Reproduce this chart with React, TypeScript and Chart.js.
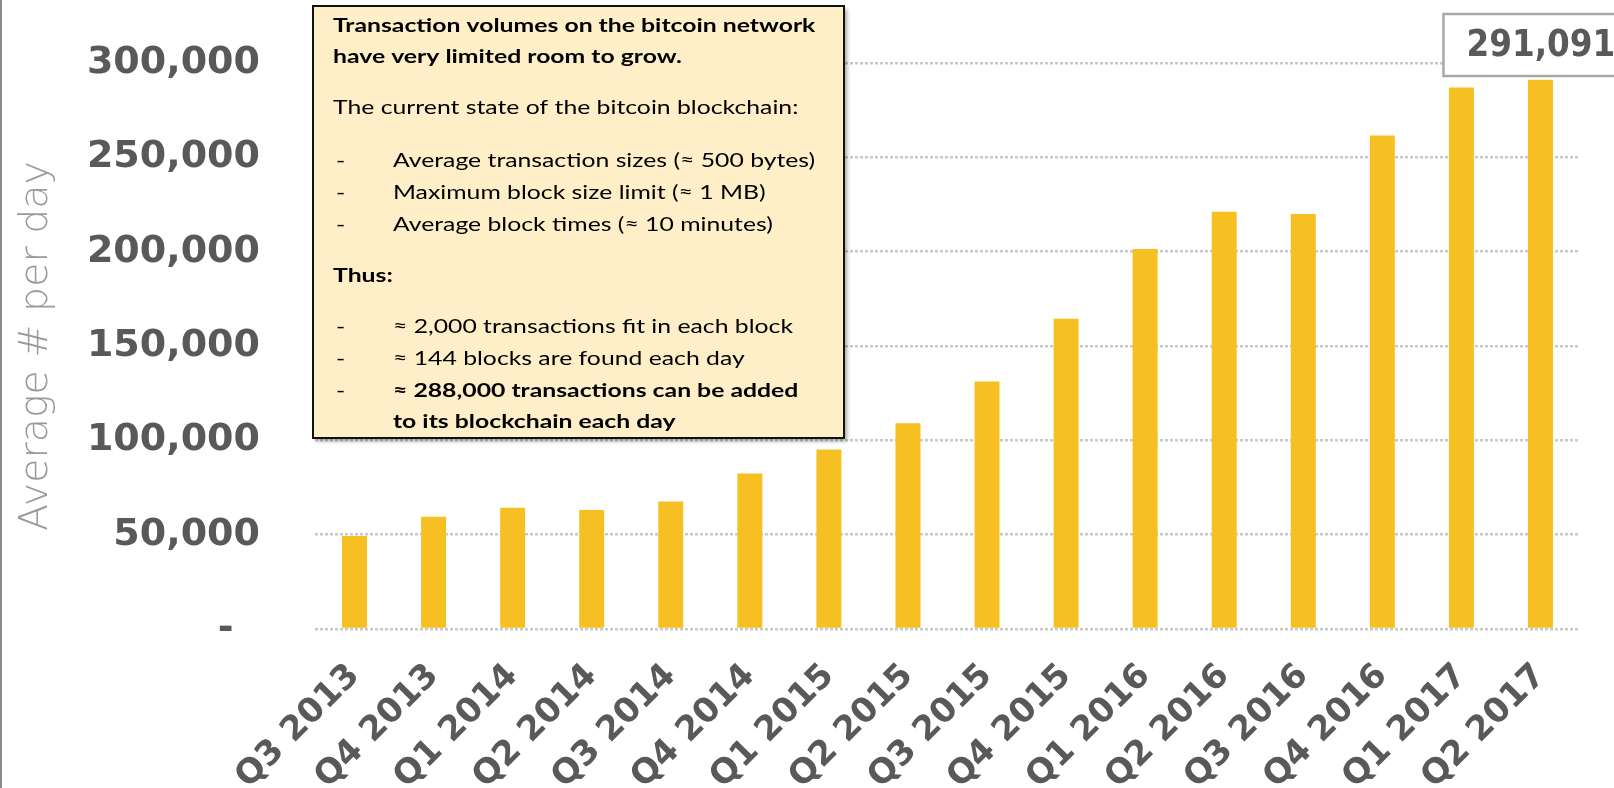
import React, { useEffect, useRef } from 'react';
import { Chart, registerables } from 'chart.js';

Chart.register(...registerables);

// ---- data ----
const categories = [
  'Q3 2013', 'Q4 2013', 'Q1 2014', 'Q2 2014', 'Q3 2014', 'Q4 2014',
  'Q1 2015', 'Q2 2015', 'Q3 2015', 'Q4 2015', 'Q1 2016', 'Q2 2016',
  'Q3 2016', 'Q4 2016', 'Q1 2017', 'Q2 2017',
];
const avgTransactionsPerDay = [
  49300, 59500, 64300, 63100, 67600, 82400,
  95100, 109000, 131200, 164400, 201400, 221100,
  219900, 261600, 287000, 291091,
];
const yMin = 0;
const yMax = 300000;
const yStep = 50000;
const yAxisTitle = 'Average # per day';

const noteHeadline = ['Transaction volumes on the bitcoin network', 'have very limited room to grow.'];
const noteIntro = 'The current state of the bitcoin blockchain:';
const noteFacts = [
  'Average transaction sizes (≈ 500 bytes)',
  'Maximum block size limit (≈ 1 MB)',
  'Average block times (≈ 10 minutes)',
];
const noteThus = 'Thus:';
const noteResults = ['≈ 2,000 transactions fit in each block', '≈ 144 blocks are found each day'];
const noteConclusion = ['≈ 288,000 transactions can be added', 'to its blockchain each day'];

const W = 1614;
const H = 788;
const TICK_FONT = 'DejaVu Sans';
const NOTE_FONT = 'Lato, "Noto Sans", sans-serif';

function stretchedText(ctx: CanvasRenderingContext2D, text: string, x: number, y: number, sx: number) {
  ctx.save();
  ctx.translate(x, y);
  ctx.scale(sx, 1);
  ctx.fillText(text, 0, 0);
  ctx.restore();
}

function clearScalePadding(scale: any) {
  scale.paddingTop = 0;
  scale.paddingBottom = 0;
  scale.paddingLeft = 0;
  scale.paddingRight = 0;
}

const overlayPlugin = {
  id: 'overlay',
  afterDraw(chart: any) {
    const ctx = chart.ctx as CanvasRenderingContext2D;
    ctx.save();

    // left frame line
    ctx.fillStyle = '#8a8a8a';
    ctx.fillRect(0, 0, 2, H);

    // note box
    const bx = 313, by = 6, bw = 531, bh = 432;
    ctx.save();
    ctx.shadowColor = 'rgba(0,0,0,0.35)';
    ctx.shadowOffsetX = 3;
    ctx.shadowOffsetY = 3;
    ctx.shadowBlur = 4;
    ctx.fillStyle = '#FEEFC8';
    ctx.fillRect(bx, by, bw, bh);
    ctx.restore();
    ctx.strokeStyle = '#111';
    ctx.lineWidth = 2;
    ctx.strokeRect(bx, by, bw, bh);

    ctx.fillStyle = '#000';
    ctx.textAlign = 'left';
    ctx.textBaseline = 'alphabetic';
    const bold = `bold 19.5px ${NOTE_FONT}`;
    const reg = `19.5px ${NOTE_FONT}`;
    const sx = 1.27;
    const x0 = 333, xDash = 336, xItem = 393;

    ctx.font = bold;
    stretchedText(ctx, noteHeadline[0], x0, 32, sx);
    stretchedText(ctx, noteHeadline[1], x0, 63, sx);
    ctx.font = reg;
    stretchedText(ctx, noteIntro, x0, 114, sx);
    const factY = [167, 199, 231];
    noteFacts.forEach((t, i) => {
      stretchedText(ctx, '-', xDash, factY[i], sx);
      stretchedText(ctx, t, xItem, factY[i], sx);
    });
    ctx.font = bold;
    stretchedText(ctx, noteThus, x0, 282, sx);
    ctx.font = reg;
    const resY = [333, 365];
    noteResults.forEach((t, i) => {
      stretchedText(ctx, '-', xDash, resY[i], sx);
      stretchedText(ctx, t, xItem, resY[i], sx);
    });
    stretchedText(ctx, '-', xDash, 397, sx);
    ctx.font = bold;
    stretchedText(ctx, noteConclusion[0], xItem, 397, sx);
    stretchedText(ctx, noteConclusion[1], xItem, 428, sx);

    // last value callout
    const meta = chart.getDatasetMeta(0);
    const lastIdx = avgTransactionsPerDay.length - 1;
    const lastBar = meta.data[lastIdx];
    if (lastBar) {
      const lx = lastBar.x - 97;
      ctx.fillStyle = '#fff';
      ctx.fillRect(lx, 14, 400, 62);
      ctx.strokeStyle = '#a9a9a9';
      ctx.lineWidth = 2.5;
      ctx.strokeRect(lx, 14, 400, 62);
      ctx.fillStyle = '#595959';
      ctx.font = `bold 38px ${TICK_FONT}`;
      stretchedText(ctx, avgTransactionsPerDay[lastIdx].toLocaleString('en-US'), lx + 23, 56, 0.86);
    }
    ctx.restore();
  },
};

export default function App() {
  const canvasRef = useRef<HTMLCanvasElement | null>(null);

  useEffect(() => {
    document.body.style.margin = '0';
    const canvas = canvasRef.current;
    if (!canvas) return;
    const chart = new Chart(canvas, {
      type: 'bar',
      data: {
        labels: categories,
        datasets: [
          {
            data: avgTransactionsPerDay,
            backgroundColor: '#F6C023',
            borderWidth: 0,
            categoryPercentage: 1,
            barPercentage: 0.316,
          },
        ],
      },
      options: {
        responsive: false,
        animation: false,
        devicePixelRatio: 1,
        layout: { padding: { top: 63, right: 34, left: 0, bottom: 0 } },
        plugins: {
          legend: { display: false },
          tooltip: { enabled: false },
          title: { display: false },
        },
        scales: {
          x: {
            grid: { display: false },
            border: { display: false },
            ticks: {
              autoSkip: false,
              minRotation: 45,
              maxRotation: 45,
              padding: 19,
              color: '#595959',
              font: { family: TICK_FONT, weight: 'bold', size: 34 },
            },
            afterFit(scale: any) {
              scale.height = 159;
              clearScalePadding(scale);
            },
          },
          y: {
            min: yMin,
            max: yMax,
            grid: { color: '#c9c9c9', lineWidth: 2.5, drawTicks: false },
            border: { display: false, dash: [3, 2] },
            ticks: {
              stepSize: yStep,
              padding: 55,
              color: '#595959',
              font: { family: TICK_FONT, weight: 'bold', size: 38 },
              callback: (v: any) => (Number(v) === 0 ? '-  ' : Number(v).toLocaleString('en-US')),
            },
            title: {
              display: true,
              text: yAxisTitle,
              color: '#9a9a9a',
              font: { family: TICK_FONT, weight: '200', size: 39.5 },
              padding: { top: 13, bottom: 0 },
            },
            afterFit(scale: any) {
              scale.width = 315;
              clearScalePadding(scale);
            },
          },
        },
      },
      plugins: [overlayPlugin],
    } as any);
    return () => chart.destroy();
  }, []);

  return (
    <div style={{ width: W, height: H, background: '#fff' }}>
      <canvas ref={canvasRef} width={W} height={H} style={{ display: 'block' }} />
    </div>
  );
}
